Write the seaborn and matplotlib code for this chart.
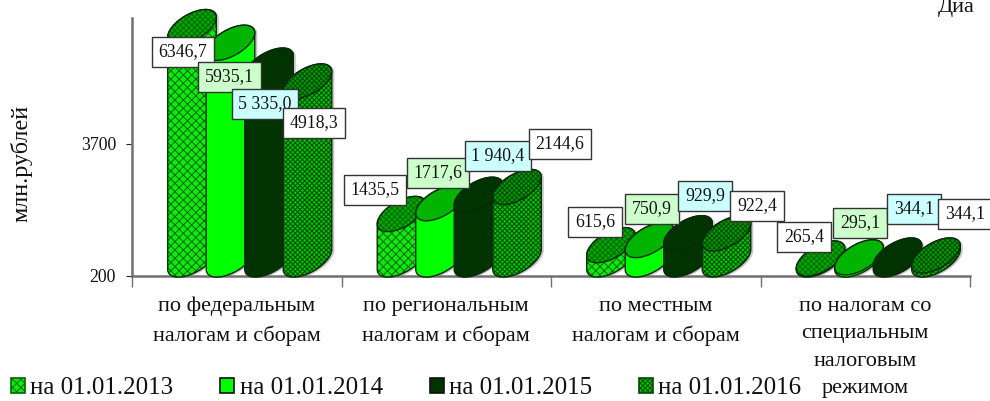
import numpy as np
import pandas as pd
import matplotlib
matplotlib.use("Agg")
import matplotlib.pyplot as plt
from matplotlib.patches import Polygon, Patch
import seaborn as sns

categories = ["по федеральным\nналогам и сборам", "по региональным\nналогам и сборам",
              "по местным\nналогам и сборам", "по налогам со\nспециальным\nналоговым\nрежимом"]
series = ["на 01.01.2013", "на 01.01.2014", "на 01.01.2015", "на 01.01.2016"]
v2013 = [6346.7, 1435.5, 615.6, 265.4]
v2014 = [5935.1, 1717.6, 750.9, 295.1]
v2015 = [5335.0, 1940.4, 929.9, 344.1]
v2016 = [4918.3, 2144.6, 922.4, 344.1]
l2013 = ["6346,7", "1435,5", "615,6", "265,4"]
l2014 = ["5935,1", "1717,6", "750,9", "295,1"]
l2015 = ["5 335,0", "1 940,4", "929,9", "344,1"]
l2016 = ["4918,3", "2144,6", "922,4", "344,1"]
yticks = [200, 3700]

# styles
body = ["#10E810", "#00FF00", "#003300", "#00C400"]
top = ["#00A800", "#00B400", "#003300", "#009A00"]
hatch_col = ["#006800", None, None, "#004A00"]
hatches = ["xxxx", None, None, "xxxxxxx"]
top_hatches = ["xxxxxx", None, None, "xxxxxxx"]
box_col = ["white", "#CCFFCC", "#CCFFFF", "white"]
# label box centres in pixels, series by category
label_px = [[(183, 50), (375, 188), (595, 220), (804, 235)],
            [(229.5, 75), (438, 171), (652, 207), (860, 221)],
            [(265, 102), (498, 154), (705, 194), (914, 207)],
            [(314, 121), (560, 142), (757, 204), (965, 212)]]

W, H = 990, 401
X0, X1, Y0, YT = 132, 970, 276, 18
PX_PER_CAT = (X1 - X0) / 4
PX_PER_VAL = 132 / 3500

sns.set_theme(style="white")
plt.rcParams["font.family"] = ["Liberation Serif", "DejaVu Serif"]
plt.rcParams["hatch.linewidth"] = 0.7

fig = plt.figure(figsize=(W / 100, H / 100), dpi=100, facecolor="white")
ax = fig.add_axes([X0 / W, 1 - Y0 / H, (X1 - X0) / W, (Y0 - YT) / H])

df = pd.DataFrame({
    "cat": np.tile(categories, 4),
    "ser": np.repeat(series, 4),
    "val": v2013 + v2014 + v2015 + v2016,
})
sns.barplot(data=df, x="cat", y="val", hue="ser", order=categories, hue_order=series,
            dodge=True, width=0.735, gap=0, legend=False, ax=ax,
            palette=body, errorbar=None, linewidth=0)

ax.set_xlim(-0.5, 3.5)
ax.set_ylim(200, 200 + (Y0 - YT) / PX_PER_VAL)


def ellipse(cx, cy, a=27.0, b=13.0, ang=30.0, n=90):
    """Leaning ellipse in pixel coordinates (y down)."""
    t = np.linspace(0, 2 * np.pi, n, endpoint=False)
    r = np.radians(ang)
    x = cx + a * np.cos(t) * np.cos(r) - b * np.sin(t) * np.sin(r)
    y = cy - a * np.cos(t) * np.sin(r) - b * np.sin(t) * np.cos(r)
    return np.column_stack([x, y])


def to_data(p):
    return np.column_stack([(p[:, 0] - X0) / PX_PER_CAT - 0.5,
                            200 + (Y0 - p[:, 1]) / PX_PER_VAL])


def add(points, fc, hatch, hcol, z):
    if hatch:
        ax.add_patch(Polygon(to_data(points), closed=True, fc=fc, ec=hcol, hatch=hatch, lw=0,
                             zorder=z, clip_on=False))
    else:
        ax.add_patch(Polygon(to_data(points), closed=True, fc=fc, ec="none", zorder=z, clip_on=False))
    ax.add_patch(Polygon(to_data(points), closed=True, fc="none", ec="#0A2A0A", lw=1.0,
                         zorder=z + 0.005, clip_on=False))


for s, cont in enumerate(ax.containers):
    for c, bar in enumerate(cont):
        val = bar.get_height()
        cx_d = bar.get_x() + bar.get_width() / 2
        cx = X0 + (cx_d + 0.5) * PX_PER_CAT + 13
        ypx = Y0 - (val - 200) * PX_PER_VAL
        cy_top = ypx - 15 - 0.9 * (Y0 - ypx) / 100
        cy_bot = Y0 - 16.5
        bar.set_facecolor("none")
        bar.set_edgecolor("none")
        z = 3 + s + 0.01 * c
        e_t = ellipse(cx, cy_top)
        e_b = ellipse(cx, cy_bot)
        il, ir = np.argmin(e_t[:, 0]), np.argmax(e_t[:, 0])
        n = len(e_t)
        chain1 = [(il + k) % n for k in range(((ir - il) % n) + 1)]
        chain2 = [(ir + k) % n for k in range(((il - ir) % n) + 1)]
        if e_t[chain1, 1].mean() > e_t[chain2, 1].mean():
            lower, upper = chain1, chain2
        else:
            lower, upper = chain2, chain1
        lower_pts = e_b[lower]
        if lower_pts[0, 0] > lower_pts[-1, 0]:
            lower_pts = lower_pts[::-1]
        upper_pts = e_t[upper]
        if upper_pts[0, 0] < upper_pts[-1, 0]:
            upper_pts = upper_pts[::-1]
        outline = np.vstack([lower_pts, upper_pts])
        ax.add_patch(Polygon(to_data(outline + np.array([2.5, 1.0])), closed=True, fc="#808080",
                             ec="none", alpha=0.45, zorder=z - 0.05, clip_on=False))
        add(outline, body[s], hatches[s], hatch_col[s], z)
        add(e_t, top[s], top_hatches[s], hatch_col[s], z + 0.02)

# value labels
labels = [l2013, l2014, l2015, l2016]
for s, cont in enumerate(ax.containers):
    for c, bar in enumerate(cont):
        px, py = label_px[s][c]
        ax.annotate(labels[s][c],
                    xy=(bar.get_x() + bar.get_width() / 2, bar.get_height()),
                    xytext=(px, H - py), textcoords="figure pixels",
                    ha="center", va="center_baseline", fontsize=12.8, color="#111111", zorder=20,
                    annotation_clip=False,
                    bbox=dict(boxstyle="square,pad=0.38", fc=box_col[s], ec="#333333", lw=1.0))

# axes
for sp in ["top", "right"]:
    ax.spines[sp].set_visible(False)
for sp in ["left", "bottom"]:
    ax.spines[sp].set_color("#707070")
    ax.spines[sp].set_linewidth(1.8)
    ax.spines[sp].set_zorder(2)
ax.set_yticks(yticks)
ax.set_yticklabels([str(v) for v in yticks], fontsize=12.8, color="#111111")
ax.tick_params(axis="y", length=4, width=0.8, color="#222222", pad=7.5, left=True)
ax.set_xticks(np.arange(-0.5, 4.0, 1.0))
ax.set_xticklabels([""] * 5)
ax.tick_params(axis="x", which="major", length=8, width=1.0, color="#707070", bottom=True)
ax.set_xticks(np.arange(4), labels=categories, minor=True)
ax.tick_params(axis="x", which="minor", length=0, pad=15, labelsize=16, labelcolor="#111111")
for t in ax.get_xticklabels(minor=True):
    t.set_linespacing(1.6)
    t.set_va("top")
ax.set_xlabel("")
ax.set_ylabel("")
fig.text(21 / W, 1 - 163 / H, "млн.рублей", rotation=90, ha="center", va="center",
         fontsize=17.4, color="#111111")
fig.text(938 / W, 1 - 12 / H, "Диа", ha="left", va="baseline", fontsize=16, color="#111111")

# legend
handles = [Patch(facecolor=body[i], edgecolor="#111111" if not hatches[i] else hatch_col[i],
                 hatch=hatches[i] if hatches[i] else None, linewidth=1.2, label=series[i])
           for i in range(4)]
fig.legend(handles=handles, ncols=4, loc="center left",
           bbox_to_anchor=(11 / W, 1 - 388 / H), frameon=False, fontsize=18,
           handlelength=0.55, handleheight=0.55, handletextpad=0.22, columnspacing=1.88,
           borderpad=0, borderaxespad=0, labelcolor="#111111")

fig.savefig("out.png", dpi=100, facecolor="white")
